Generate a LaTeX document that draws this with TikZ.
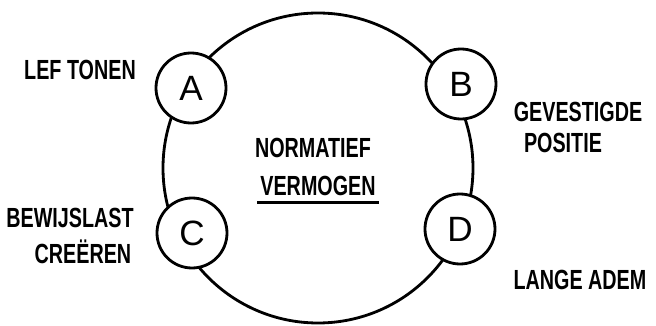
\documentclass[tikz,border=0pt]{standalone}
\usepackage{fontspec}
\setmainfont{Liberation Sans}
\usetikzlibrary{positioning}

\newcommand{\stretched}[1]{\scalebox{1.07}[1.5]{#1}}

\begin{document}
\begin{tikzpicture}[
  line width=1.6pt,
  ring/.style={draw,circle,minimum size=6.2cm,inner sep=0pt},
  letter/.style={draw,circle,fill=white,minimum size=1.4cm,inner sep=0pt,
    font=\fontsize{20}{20}\selectfont},
  label/.style={font=\bfseries\fontsize{10.5}{14}\selectfont,inner sep=1pt}
]

\useasboundingbox (0,0) rectangle (13.12,6.52);

%====================================================
% Ring
%====================================================
\node[ring] (ring) at (6.36,3.16) {};

%====================================================
% Letters
%====================================================
\node[letter] (A) at (3.82,4.76) {A};
\node[letter] (B) at (9.22,4.84) {B};
\node[letter] (C) at (3.84,1.86) {C};
\node[letter] (D) at (9.20,1.94) {D};

%====================================================
% Labels
%====================================================
\node[label] (lef) at (1.6,5.12) {\stretched{LEF TONEN}};

\node[label] (gev) at (11.56,4.28) {\stretched{GEVESTIGDE}};
\node[label] (pos) at (11.26,3.66) {\stretched{POSITIE}};

\node[label] (bew) at (1.4,2.16) {\stretched{BEWIJSLAST}};
\node[label] (cre) at (1.66,1.48) {\stretched{CREËREN}};

\node[label] (lange) at (11.6,0.92) {\stretched{LANGE ADEM}};

% Centre
\node[label] (norm) at (6.26,3.56) {\stretched{NORMATIEF}};
\node[label] (verm) at (6.36,2.80) {\stretched{VERMOGEN}};
\draw ([yshift=-2pt]verm.south west) -- ([yshift=-2pt]verm.south east);

\end{tikzpicture}
\end{document}
